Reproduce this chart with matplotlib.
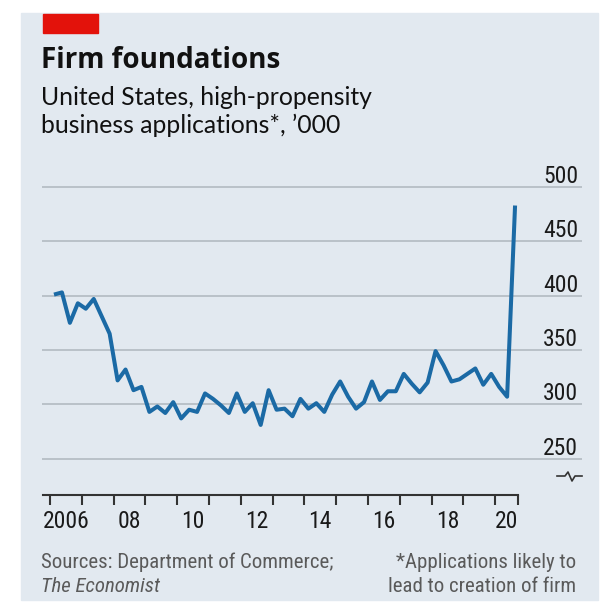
import numpy as np
import pandas as pd
import matplotlib
matplotlib.use("Agg")
import matplotlib.pyplot as plt
from matplotlib import font_manager
from matplotlib.patches import Rectangle
from matplotlib.lines import Line2D
import matplotlib.transforms as mtransforms

# Quarterly high-propensity business applications, '000 (2006Q1 - 2020Q3)
quarters = pd.period_range("2006Q1", "2020Q3", freq="Q")
applications = [
    401, 403, 375, 393, 388, 397, 381, 365,      # 2006-07
    322, 332, 313, 316, 293, 298, 292, 302,      # 2008-09
    287, 295, 293, 310, 305, 299, 292, 310,      # 2010-11
    293, 301, 281, 313, 295, 296, 289, 305,      # 2012-13
    296, 301, 293, 309, 321, 307, 296, 302,      # 2014-15
    321, 304, 312, 312, 328, 319, 311, 320,      # 2016-17
    349, 336, 321, 323, 328, 333, 318, 328,      # 2018-19
    316, 307, 483,                               # 2020
]
grid_values = [250, 300, 350, 400, 450, 500]
year_ticks = list(range(2006, 2021))
label_pos = [2006.5, 2008.5, 2010.5, 2012.5, 2014.5, 2016.5, 2018.5, 2020.37]
label_text = ["2006", "08", "10", "12", "14", "16", "18", "20"]

# mid-quarter decimal year
x = np.array([q.year + (q.quarter - 0.5) / 4 for q in quarters])

names = {f.name for f in font_manager.fontManager.ttflist}
def pick(*fams):
    for f in fams:
        if f in names:
            return f
    return "DejaVu Sans"

narrow = pick("Liberation Sans Narrow", "Roboto Condensed", "Roboto", "Liberation Sans")
head = pick("Open Sans", "Noto Sans", "Lato")
sub = pick("Lato", "Open Sans")

W, H = 608, 604
fig = plt.figure(figsize=(W / 100, H / 100), dpi=100)
fig.patch.set_facecolor("white")

def fx(px):
    return px / W

def fy(py):
    return 1 - py / H

bg = "#e2e9f0"
fig.patches.append(Rectangle((fx(21), fy(600)), fx(598) - fx(21), fy(13) - fy(600),
                             transform=fig.transFigure, color=bg, zorder=-10))
fig.patches.append(Rectangle((fx(42.5), fy(32.5)), fx(97.5) - fx(42.5), fy(14) - fy(32.5),
                             transform=fig.transFigure, color="#e3120b", zorder=-5))

fig.text(fx(41), fy(68.5), "Firm foundations", fontsize=20, fontweight="bold",
         family=head, color="#111111", va="baseline")
fig.text(fx(41), fy(105), "United States, high-propensity", fontsize=17.8,
         family=sub, color="#111111", va="baseline")
fig.text(fx(41), fy(133.5), "business applications*, \u2019000", fontsize=17.8,
         family=sub, color="#111111", va="baseline")

ax = fig.add_axes([fx(42), fy(495), fx(582) - fx(42), fy(170) - fy(495)])
ax.set_facecolor("none")
ax.set_xlim(2005.748, 2022.73)
ax.set_ylim(216.5, 515.7)

shift = mtransforms.ScaledTranslation(0, 4 / 100, fig.dpi_scale_trans)
for v in grid_values:
    ax.axhline(v, color="#b6bec5", lw=1.3, zorder=1)
    ax.text(0.993, v, str(v), transform=ax.get_yaxis_transform() + shift, ha="right",
            va="baseline", fontsize=17, family=narrow, color="#1a1a1a")

ax.plot(x, applications, color="#1b6aa5", lw=2.9, solid_joinstyle="round",
        solid_capstyle="butt", zorder=3)

for s in ["left", "right", "top"]:
    ax.spines[s].set_visible(False)
ax.spines["bottom"].set_bounds(2005.77, 2020.73)
ax.spines["bottom"].set_color("#333333")
ax.spines["bottom"].set_linewidth(1.5)

ax.set_yticks([])
ax.set_xticks(year_ticks + [2020.73])
ax.set_xticklabels([])
ax.tick_params(axis="x", which="major", direction="out", length=7.2, width=1.5,
               color="#333333")
ax.set_xticks(label_pos, minor=True)
ax.set_xticklabels(label_text, minor=True, fontsize=17, family=narrow, color="#1a1a1a")
ax.tick_params(axis="x", which="minor", length=0, pad=10.5)

# axis break symbol
bx = [557, 565, 568, 572, 575, 582]
by = [476, 476, 472, 481, 476, 476]
fig.lines.append(Line2D([fx(v) for v in bx], [fy(v) for v in by], transform=fig.transFigure,
                        color="#333333", lw=1.2))

fig.text(fx(41), fy(568), "Sources: Department of Commerce;", fontsize=15,
         family=narrow, color="#5a5a5a", va="baseline")
fig.text(fx(41), fy(591.5), "The Economist", fontsize=15, family=narrow,
         style="italic", color="#5a5a5a", va="baseline")
fig.text(fx(576), fy(568), "*Applications likely to", fontsize=15, family=narrow,
         color="#5a5a5a", va="baseline", ha="right")
fig.text(fx(576), fy(591.5), "lead to creation of firm", fontsize=15, family=narrow,
         color="#5a5a5a", va="baseline", ha="right")

fig.savefig("out.png", dpi=100)
